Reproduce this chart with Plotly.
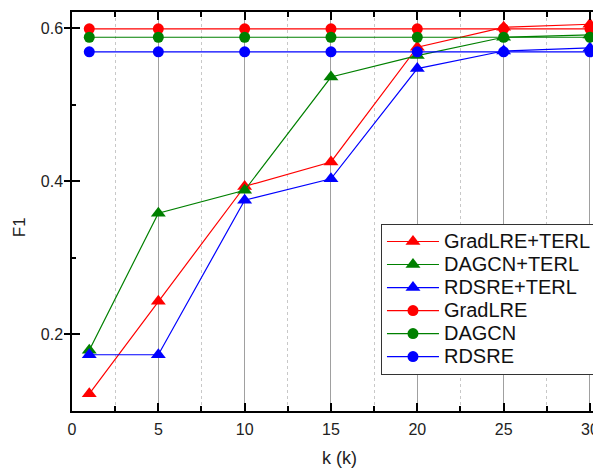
import plotly.graph_objects as go

k = [1, 5, 10, 15, 20, 25, 30]
gradlre_terl = [0.122, 0.243, 0.393, 0.425, 0.575, 0.601, 0.605]
dagcn_terl = [0.179, 0.358, 0.388, 0.536, 0.564, 0.588, 0.591]
rdsre_terl = [0.173, 0.173, 0.375, 0.403, 0.547, 0.570, 0.574]
gradlre = [0.599] * 7
dagcn = [0.588] * 7
rdsre = [0.569] * 7

names = ["GradLRE+TERL", "DAGCN+TERL", "RDSRE+TERL", "GradLRE", "DAGCN", "RDSRE"]
series = [gradlre_terl, dagcn_terl, rdsre_terl, gradlre, dagcn, rdsre]
colors = ["#ff0000", "#008000", "#0000ff", "#ff0000", "#008000", "#0000ff"]
symbols = ["triangle-up"] * 3 + ["circle"] * 3
sizes = [13, 13, 13, 11, 11, 11]

fig = go.Figure()
for n, s, c, sym, sz in zip(names, series, colors, symbols, sizes):
    fig.add_trace(go.Scatter(
        x=k, y=s, name='<span style="font-size:20px">' + n + '</span>',
        mode="lines+markers",
        line=dict(color=c, width=1.2),
        marker=dict(symbol=sym, size=sz, color=c, line=dict(width=0)),
    ))

# invisible trace to activate overlay axis for outside major y ticks
fig.add_trace(go.Scatter(x=[0], y=[0.1], yaxis="y2", showlegend=False,
                         mode="markers", marker=dict(opacity=0), hoverinfo="skip"))

font = "Liberation Sans, Arial, sans-serif"
fig.update_layout(
    width=593, height=460,
    margin=dict(l=64, r=0, t=4, b=57),
    paper_bgcolor="white", plot_bgcolor="white",
    font=dict(family=font, color="#222222"),
    showlegend=True,
    legend=dict(
        x=0.9924, xanchor="right", y=0.4687, yanchor="top",
        bgcolor="white", bordercolor="#333333", borderwidth=1,
        font=dict(size=15.4, color="#111111"),
        itemwidth=52, tracegroupgap=0,
    ),
    xaxis=dict(
        range=[0, 30.64], tickmode="array", tickvals=[0, 5, 10, 15, 20, 25, 30],
        ticks="inside", ticklen=8, tickwidth=1.5, tickcolor="black",
        showline=True, linecolor="black", linewidth=1.5, mirror="ticks",
        showgrid=True, gridcolor="#a0a0a0", gridwidth=1,
        minor=dict(tickvals=[2.5, 7.5, 12.5, 17.5, 22.5, 27.5], ticks="inside", ticklen=5,
                   tickcolor="black", showgrid=True, gridcolor="#c8c8c8",
                   griddash="3px,3px", gridwidth=1),
        tickfont=dict(size=16, color="#222222"),
        ticklabelstandoff=3,
        automargin=False, zeroline=False,
    ),
    yaxis=dict(
        range=[0.0995, 0.621], tickmode="array", tickvals=[0.2, 0.4, 0.6],
        ticktext=["0.2", "0.4", "0.6"],
        ticks="inside", ticklen=8, tickwidth=1.5, tickcolor="black",
        showline=True, linecolor="black", linewidth=1.5, mirror="ticks",
        showgrid=False, zeroline=False,
        minor=dict(tickvals=[0.3, 0.5], ticks="inside", ticklen=4, tickcolor="black"),
        tickfont=dict(size=16, color="#222222"),
        ticklabelstandoff=4, automargin=False,
    ),
    yaxis2=dict(
        overlaying="y", side="left", range=[0.0995, 0.621], tickmode="array",
        tickvals=[0.2, 0.4, 0.6], ticks="outside", ticklen=7, tickwidth=1.5,
        tickcolor="black", showticklabels=False, showgrid=False, zeroline=False,
        showline=False, automargin=False,
    ),
    annotations=[
        dict(text="k (k)", xref="paper", yref="paper", x=0.505, y=-0.118,
             xanchor="center", yanchor="middle", showarrow=False,
             font=dict(size=18, color="#222222")),
        dict(text="F1", xref="paper", yref="paper", x=-0.10, y=0.461,
             xanchor="center", yanchor="middle", showarrow=False, textangle=-90,
             font=dict(size=17, color="#222222")),
    ],
)

fig.write_html("out.html")
